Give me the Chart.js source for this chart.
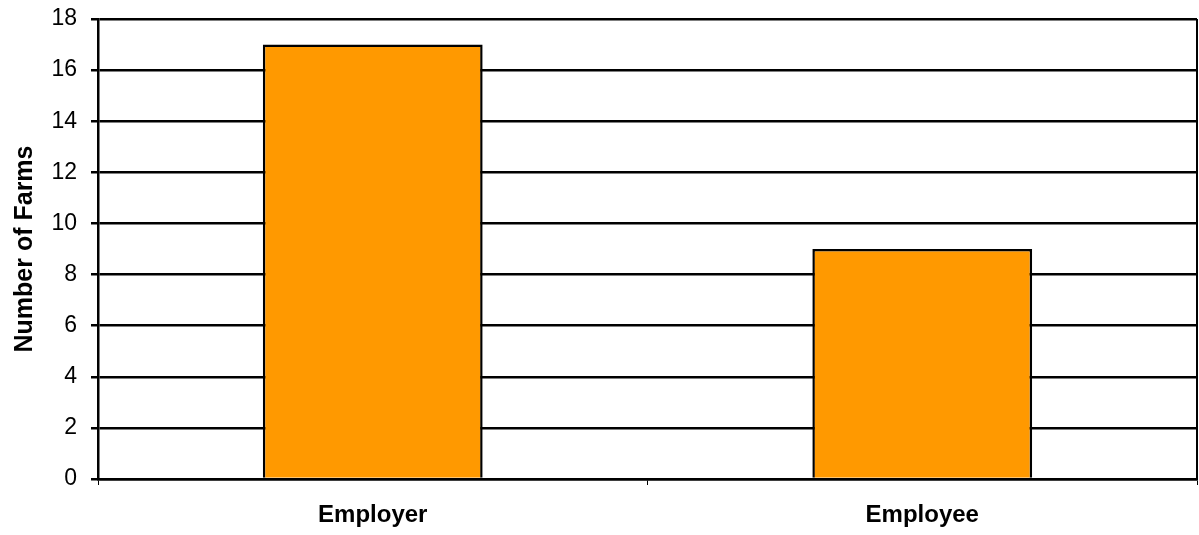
<!DOCTYPE html>
<html>
<head>
<meta charset="utf-8">
<script src="https://cdn.jsdelivr.net/npm/chart.js@4/dist/chart.umd.min.js"></script>
<style>
  body { margin: 0; background: #fff; }
  canvas { display: block; }
</style>
</head>
<body>
<canvas id="farmChart" width="1199" height="535"></canvas>
<script>
// Employer vs employee farm counts

const categories = ['Employer', 'Employee'];
const farmCounts = [17, 9];
const yTicks = [0, 2, 4, 6, 8, 10, 12, 14, 16, 18];

// draws the right-hand edge of the plot frame
const frameRight = {
  id: 'frameRight',
  afterDraw(chart) {
    const { ctx, chartArea } = chart;
    ctx.save();
    ctx.strokeStyle = '#000';
    ctx.lineWidth = 2;
    ctx.beginPath();
    ctx.moveTo(chartArea.right, chartArea.top);
    ctx.lineTo(chartArea.right, chartArea.bottom);
    ctx.stroke();
    ctx.restore();
  }
};

document.addEventListener("DOMContentLoaded", () => {
  const ctx = document.getElementById('farmChart');

  new Chart(ctx, {
    type: 'bar',
    data: {
      labels: categories,
      datasets: [{
        label: 'Number of Farms',
        data: farmCounts,
        backgroundColor: '#FF9900',
        borderColor: '#000',
        borderWidth: 2.5,
        barPercentage: 0.4,
        categoryPercentage: 1
      }]
    },
    options: {
      responsive: false,
      animation: false,
      layout: { padding: { top: 19, right: 2, left: 0, bottom: 0 } },
      plugins: {
        legend: { display: false },
        tooltip: { enabled: false }
      },
      scales: {
        x: {
          afterFit(scale) {
            scale.height = 56;
            scale.paddingLeft = 0;
            scale.paddingRight = 0;
          },
          grid: {
            offset: true,
            drawOnChartArea: false,
            color: '#000',
            lineWidth: 1,
            tickLength: 6
          },
          border: { display: true, color: '#000', width: 2.5 },
          ticks: {
            color: '#000',
            padding: 16,
            font: { family: 'Liberation Sans, Arial, sans-serif', size: 24, weight: 'bold' }
          }
        },
        y: {
          min: 0,
          max: 18,
          afterFit(scale) {
            scale.width = 98;
            scale.paddingTop = 0;
            scale.paddingBottom = 0;
          },
          afterBuildTicks(scale) { scale.ticks = yTicks.map(v => ({ value: v })); },
          grid: { color: '#000', lineWidth: 2.5, tickLength: 7 },
          border: { display: true, color: '#000', width: 2.5 },
          ticks: {
            color: '#000',
            padding: 14,
            font: { family: 'Liberation Sans, Arial, sans-serif', size: 23 }
          },
          title: {
            display: true,
            text: 'Number of Farms',
            color: '#000',
            padding: { top: 10, bottom: 0 },
            font: { family: 'Liberation Sans, Arial, sans-serif', size: 25, weight: 'bold' }
          }
        }
      }
    },
    plugins: [frameRight]
  });
});
</script>
</body>
</html>
